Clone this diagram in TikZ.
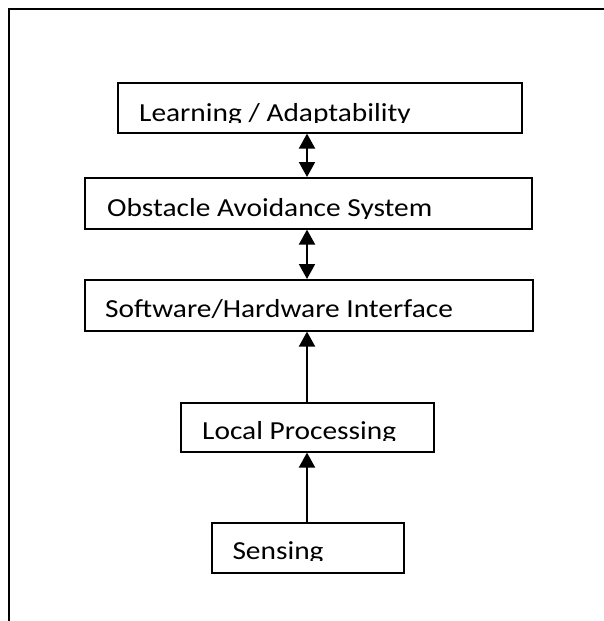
\documentclass[tikz,border=0pt]{standalone}
\usepackage{fontspec}
\usepackage{graphicx}
\setmainfont{Carlito}
\usetikzlibrary{arrows.meta}
\newcommand{\widetxt}[1]{\scalebox{1.13}[1]{#1}}
\begin{document}
\begin{tikzpicture}[x=1pt,y=-1pt,
  box/.style={draw=black, line width=1.6pt, inner sep=0pt, anchor=north west},
  txt/.style={inner sep=0pt, anchor=base west, font=\fontsize{26}{31}\selectfont},
  arr/.style={line width=2pt, -{Triangle[length=15pt,width=16pt]}},
  darr/.style={line width=2pt, {Triangle[length=15pt,width=16pt]}-{Triangle[length=15pt,width=16pt]}}]
\useasboundingbox (0,0) rectangle (604,621);
\draw[line width=2pt] (604,9) -- (9,9) -- (9,621);
\node[box, minimum width=404pt, minimum height=50pt] (learn) at (117,82) {};
\node[box, minimum width=447pt, minimum height=51pt] (obst) at (84,177) {};
\node[box, minimum width=448pt, minimum height=51pt] (soft) at (84,279) {};
\node[box, minimum width=253pt, minimum height=49pt] (local) at (180,402) {};
\node[box, minimum width=192pt, minimum height=50pt] (sense) at (211,522) {};
\begin{scope}\clip (0,0) rectangle (604,122.3);
\node[txt] (tlearn) at (139,121) {\widetxt{Learning / Adaptability}};\end{scope}
\begin{scope}\clip (0,0) rectangle (604,218);
\node[txt] (tobst) at (107,216.7) {\widetxt{Obstacle Avoidance System}};\end{scope}
\node[txt] (tsoft) at (105,317.3) {\widetxt{Software/Hardware Interface}};
\begin{scope}\clip (0,0) rectangle (604,440.6);
\node[txt] (tlocal) at (202,439.3) {\widetxt{Local Processing}};\end{scope}
\begin{scope}\clip (0,0) rectangle (604,560.6);
\node[txt] (tsense) at (232.3,559.3) {\widetxt{Sensing}};\end{scope}
\coordinate (ax) at (307,0);
\draw[darr] (learn.south -| ax) -- (obst.north -| ax);
\draw[darr] (obst.south -| ax) -- (soft.north -| ax);
\draw[arr] (local.north -| ax) -- (soft.south -| ax);
\draw[arr] (sense.north -| ax) -- (local.south -| ax);
\end{tikzpicture}
\end{document}
